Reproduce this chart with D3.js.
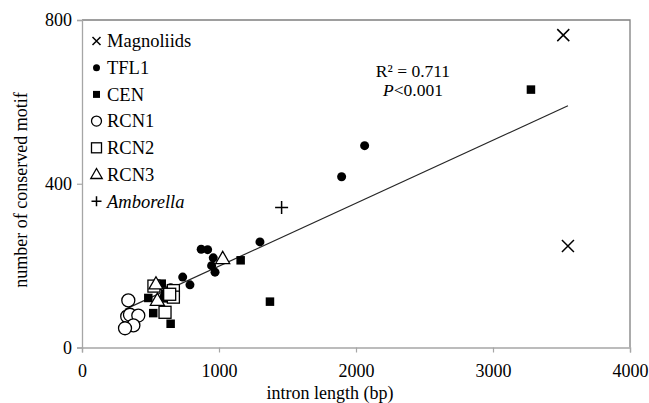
<!DOCTYPE html>
<html>
<head>
<meta charset="utf-8">
<script src="https://cdn.jsdelivr.net/npm/d3@7"></script>
<style>
html,body{margin:0;padding:0;background:#fff;}
</style>
</head>
<body>
<svg id="chart" width="649" height="403" font-family="'Liberation Serif', 'Times New Roman', Times, serif"></svg>
<script>
// ---- data (intron length bp, number of conserved motif) ----
const seriesNames = ["Magnoliids", "TFL1", "CEN", "RCN1", "RCN2", "RCN3", "Amborella"];
const magnoliids = [[3513, 763], [3547, 248]];
const tfl1 = [[2063, 493], [1895, 417], [1299, 258], [870, 240], [917, 239], [958, 219],
  [946, 200], [971, 184], [735, 172], [788, 153], [647, 146], [560, 150]];
const cen = [[3277, 630], [1158, 213], [1372, 112], [526, 152], [582, 156], [484, 121],
  [520, 84], [647, 58], [606, 131], [600, 120]];
const rcn1 = [[338, 115], [330, 76], [350, 80], [411, 78], [375, 54], [314, 47]];
const rcn2 = [[525, 150], [667, 139], [667, 123], [606, 86], [640, 130]];
const rcn3 = [[1027, 217], [550, 115], [540, 155]];
const amborella = [[1457, 342]];
const xTicks = [0, 1000, 2000, 3000, 4000];
const yTicks = [0, 400, 800];
const fitSlope = 0.1538, fitIntercept = 44.9;
const statLines = ["R² = 0.711", "P<0.001"];

const FONT = "'Liberation Serif', 'Times New Roman', Times, serif";
const svg = d3.select("#chart");
const L = 82, R = 630, T = 20, B = 347.5;
const x = d3.scaleLinear().domain([0, 4000]).range([L, R]);
const y = d3.scaleLinear().domain([0, 800]).range([B, T]);

// frame (top & right)
svg.append("path").attr("d", `M${L},${T}H${R}V${B}`).attr("fill", "none")
  .attr("stroke", "#7f7f7f").attr("stroke-width", 1.3);

// axes
const xAxis = svg.append("g").attr("transform", `translate(0,${B})`)
  .call(d3.axisBottom(x).tickValues(xTicks).tickSize(5).tickPadding(12).tickFormat(d3.format("d")));
const yAxis = svg.append("g").attr("transform", `translate(${L},0)`)
  .call(d3.axisLeft(y).tickValues(yTicks).tickSize(5).tickPadding(5).tickFormat(d3.format("d")));
[xAxis, yAxis].forEach(g => {
  g.attr("font-family", FONT).attr("font-size", 18);
  g.select(".domain").attr("stroke", "#a6a6a6").attr("stroke-width", 1.3);
  g.selectAll(".tick line").attr("stroke", "#a6a6a6").attr("stroke-width", 1.2);
  g.selectAll("text").attr("fill", "#000");
});
xAxis.selectAll("text").attr("dy", null).attr("y", 29);
yAxis.selectAll("text").attr("dy", "0.33em");

// axis titles
svg.append("text").attr("x", 330).attr("y", 399).attr("text-anchor", "middle")
  .attr("font-size", 18).text("intron length (bp)");
svg.append("text").attr("transform", "translate(27,190) rotate(-90)").attr("text-anchor", "middle")
  .attr("font-size", 18).text("number of conserved motif");

// trendline
const all = [].concat(magnoliids, tfl1, cen, rcn1, rcn2, rcn3, amborella);
const xe = d3.extent(all, d => d[0]);
svg.append("line")
  .attr("x1", x(xe[0])).attr("y1", y(fitSlope * xe[0] + fitIntercept))
  .attr("x2", x(xe[1])).attr("y2", y(fitSlope * xe[1] + fitIntercept))
  .attr("stroke", "#262626").attr("stroke-width", 1.2);

// marker drawers
function drawMarker(g, type, cx, cy, s) {
  if (type === "x") {
    const h = s / 2;
    g.append("path").attr("d", `M${cx - h},${cy - h}L${cx + h},${cy + h}M${cx - h},${cy + h}L${cx + h},${cy - h}`)
      .attr("stroke", "#000").attr("stroke-width", 1.5).attr("fill", "none");
  } else if (type === "plus") {
    const h = s / 2;
    g.append("path").attr("d", `M${cx - h},${cy}H${cx + h}M${cx},${cy - h}V${cy + h}`)
      .attr("stroke", "#000").attr("stroke-width", 1.5).attr("fill", "none");
  } else if (type === "dot") {
    g.append("circle").attr("cx", cx).attr("cy", cy).attr("r", s / 2).attr("fill", "#000");
  } else if (type === "sq") {
    g.append("rect").attr("x", cx - s / 2).attr("y", cy - s / 2).attr("width", s).attr("height", s).attr("fill", "#000");
  } else if (type === "ocircle") {
    g.append("circle").attr("cx", cx).attr("cy", cy).attr("r", s / 2).attr("fill", "#fff")
      .attr("stroke", "#000").attr("stroke-width", 1.3);
  } else if (type === "osq") {
    g.append("rect").attr("x", cx - s / 2).attr("y", cy - s / 2).attr("width", s).attr("height", s).attr("fill", "#fff")
      .attr("stroke", "#000").attr("stroke-width", 1.3);
  } else if (type === "otri") {
    const h = s * 0.87;
    g.append("path").attr("d", `M${cx},${cy - h * 0.6}L${cx + s / 2},${cy + h * 0.4}L${cx - s / 2},${cy + h * 0.4}Z`)
      .attr("fill", "#fff").attr("stroke", "#000").attr("stroke-width", 1.3);
  }
}

const series = [
  { name: seriesNames[0], data: magnoliids, type: "x", size: 12, lsize: 8 },
  { name: seriesNames[1], data: tfl1, type: "dot", size: 9, lsize: 7 },
  { name: seriesNames[2], data: cen, type: "sq", size: 8.5, lsize: 7 },
  { name: seriesNames[3], data: rcn1, type: "ocircle", size: 13, lsize: 10 },
  { name: seriesNames[4], data: rcn2, type: "osq", size: 12, lsize: 10 },
  { name: seriesNames[5], data: rcn3, type: "otri", size: 14, lsize: 11.5 },
  { name: seriesNames[6], data: amborella, type: "plus", size: 13, lsize: 10 }
];

const pts = svg.append("g");
series.forEach(s => {
  const g = pts.append("g");
  s.data.forEach(d => drawMarker(g, s.type, x(d[0]), y(d[1]), s.size));
});

// legend
const lg = svg.append("g");
series.forEach((s, i) => {
  const cy = 41 + i * 26.7;
  drawMarker(lg, s.type, 96.5, cy, s.lsize);
  const t = lg.append("text").attr("x", 107).attr("y", cy + 6.3).attr("font-size", 18.5);
  if (s.name === "Amborella") t.attr("font-style", "italic");
  t.text(s.name);
});

// stats
svg.append("text").attr("x", 413).attr("y", 76.5).attr("text-anchor", "middle").attr("font-size", 17.5).text(statLines[0]);
const pt = svg.append("text").attr("x", 413).attr("y", 95.5).attr("text-anchor", "middle").attr("font-size", 17.5);
pt.append("tspan").attr("font-style", "italic").text(statLines[1].slice(0, 1));
pt.append("tspan").text(statLines[1].slice(1));
</script>
</body>
</html>
